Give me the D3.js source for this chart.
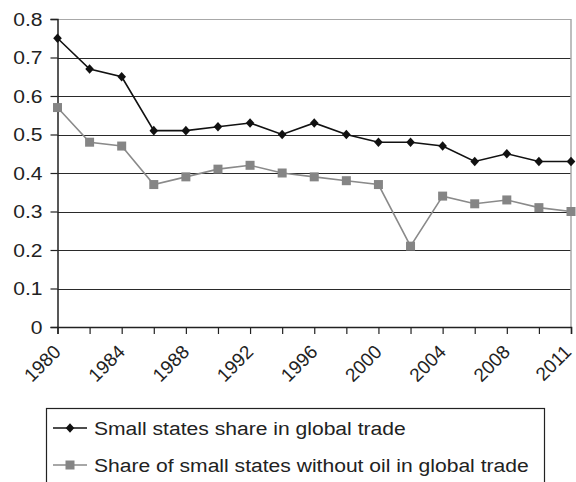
<!DOCTYPE html>
<html>
<head>
<meta charset="utf-8">
<script src="https://cdn.jsdelivr.net/npm/d3@7"></script>
<style>
  html, body { margin: 0; padding: 0; background: #fff; }
  svg { display: block; font-family: "Liberation Sans", Arial, sans-serif; }
</style>
</head>
<body>
<svg id="chart" width="576" height="482"></svg>
<script>
// Trade shares of small states, 1980–2011
const years = ["1980","1982","1984","1986","1988","1990","1992","1994","1996","1998","2000","2002","2004","2006","2008","2010","2011"];
const smallStatesShare = [0.75,0.67,0.65,0.51,0.51,0.52,0.53,0.50,0.53,0.50,0.48,0.48,0.47,0.43,0.45,0.43,0.43];
const smallStatesNoOil = [0.57,0.48,0.47,0.37,0.39,0.41,0.42,0.40,0.39,0.38,0.37,0.21,0.34,0.32,0.33,0.31,0.30];
const yTicks = [0, 0.1, 0.2, 0.3, 0.4, 0.5, 0.6, 0.7, 0.8];
const xLabelYears = ["1980","1984","1988","1992","1996","2000","2004","2008","2011"];
const seriesNames = ["Small states share in global trade", "Share of small states without oil in global trade"];

const svg = d3.select("#chart");
const plotLeft = 57.5, plotRight = 571, plotTop = 19, plotBottom = 327;
const FONT = "Liberation Sans, Arial, sans-serif";
const WIDEN = 1.11; // slightly wide lettering

const x = d3.scalePoint().domain(years).range([plotLeft, plotRight]);
const y = d3.scaleLinear().domain([0, 0.8]).range([plotBottom, plotTop]);

// horizontal gridlines
svg.append("g").selectAll("line").data(yTicks.filter(d => d > 0)).join("line")
  .attr("x1", plotLeft).attr("x2", plotRight)
  .attr("y1", d => Math.round(y(d)) + 0.5).attr("y2", d => Math.round(y(d)) + 0.5)
  .attr("stroke", d => d === 0.8 ? "#a8a8a8" : "#2a2a2a")
  .attr("stroke-width", 1.2);

// right border of the plot area
svg.append("line")
  .attr("x1", plotRight).attr("x2", plotRight).attr("y1", plotTop).attr("y2", plotBottom)
  .attr("stroke", "#a8a8a8").attr("stroke-width", 1.5);

// y axis
const yAxis = d3.axisLeft(y).tickValues(yTicks).tickSize(7).tickPadding(8)
  .tickFormat(d => d === 0 ? "0" : d3.format(".1f")(d));
const gy = svg.append("g").attr("transform", `translate(${plotLeft},0)`).call(yAxis);
gy.select(".domain").attr("stroke", "#222").attr("stroke-width", 1.5);
gy.selectAll(".tick line").attr("stroke", "#222").attr("stroke-width", 1.2);
gy.selectAll(".tick text").attr("font-size", 19).attr("fill", "#222")
  .attr("font-family", FONT)
  .attr("x", 0)
  .attr("transform", `translate(-15,0) scale(${WIDEN},1)`);

// x axis
const xAxis = d3.axisBottom(x).tickSize(7).tickFormat(d => xLabelYears.includes(d) ? d : "");
const gx = svg.append("g").attr("transform", `translate(0,${plotBottom})`).call(xAxis);
gx.select(".domain").attr("stroke", "#222").attr("stroke-width", 1.5);
gx.selectAll(".tick line").attr("stroke", "#222").attr("stroke-width", 1.2);
gx.selectAll(".tick text")
  .attr("font-size", 19).attr("fill", "#222")
  .attr("font-family", FONT)
  .attr("text-anchor", "end")
  .attr("dy", null).attr("y", 0)
  .attr("transform", d => d === years[years.length - 1]
    ? "translate(1,26) rotate(-45)"
    : "translate(4,26) rotate(-45)");

// series lines and markers
const lineGen = (vals) => d3.line().x((d, i) => x(years[i])).y(d => y(d))(vals);

svg.append("path").attr("d", lineGen(smallStatesNoOil))
  .attr("fill", "none").attr("stroke", "#8a8a8a").attr("stroke-width", 1.6);
svg.append("g").selectAll("rect").data(smallStatesNoOil).join("rect")
  .attr("x", (d, i) => x(years[i]) - 4.5).attr("y", d => y(d) - 4.5)
  .attr("width", 9).attr("height", 9).attr("fill", "#858585");

svg.append("path").attr("d", lineGen(smallStatesShare))
  .attr("fill", "none").attr("stroke", "#111").attr("stroke-width", 1.6);
const diamond = "M0,-4.8L4.3,0L0,4.8L-4.3,0Z";
svg.append("g").selectAll("path").data(smallStatesShare).join("path")
  .attr("d", diamond)
  .attr("transform", (d, i) => `translate(${x(years[i])},${y(d)})`)
  .attr("fill", "#111");

// legend
const lg = svg.append("g");
lg.append("rect").attr("x", 46.5).attr("y", 408.5).attr("width", 498).attr("height", 90)
  .attr("fill", "none").attr("stroke", "#222").attr("stroke-width", 1.2);
const rows = [
  { name: seriesNames[0], color: "#111", marker: "diamond", cy: 428 },
  { name: seriesNames[1], color: "#8a8a8a", marker: "square", cy: 465 }
];
rows.forEach(r => {
  lg.append("line").attr("x1", 53).attr("x2", 87).attr("y1", r.cy).attr("y2", r.cy)
    .attr("stroke", r.color).attr("stroke-width", 1.6);
  if (r.marker === "diamond") {
    lg.append("path").attr("d", diamond).attr("transform", `translate(70,${r.cy})`).attr("fill", "#111");
  } else {
    lg.append("rect").attr("x", 65.5).attr("y", r.cy - 4.5).attr("width", 9).attr("height", 9).attr("fill", "#858585");
  }
  lg.append("text")
    .attr("transform", `translate(94,${r.cy + 6.5}) scale(${WIDEN},1)`)
    .attr("font-size", 19).attr("font-family", FONT).attr("fill", "#222").text(r.name);
});
</script>
</body>
</html>
